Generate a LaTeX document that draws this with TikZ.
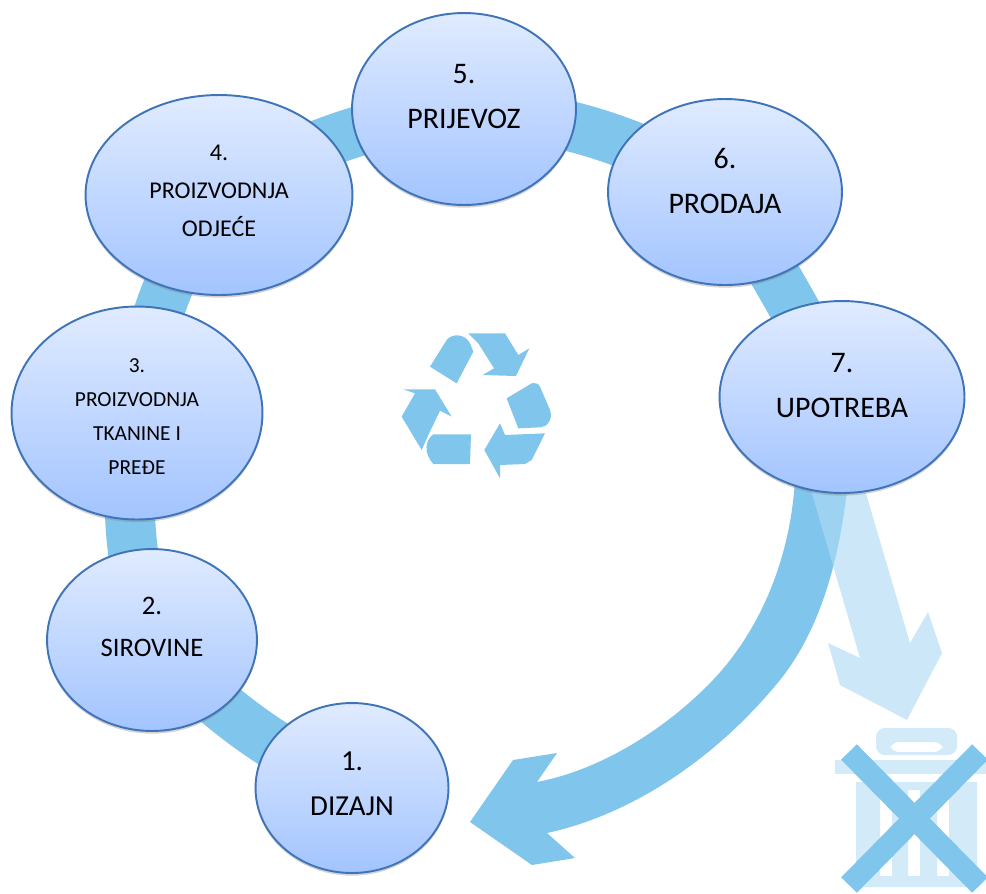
\documentclass[tikz,border=0pt]{standalone}
\usepackage{fontspec}
\setmainfont{Carlito}
\usetikzlibrary{shapes.geometric,shadows,backgrounds}
\definecolor{ringblue}{HTML}{7FC5EC}
\definecolor{paleblue}{HTML}{D3EBF9}
\definecolor{fadeblue}{HTML}{AFDAF5}
\definecolor{stepline}{HTML}{3F74B8}
\definecolor{steptop}{HTML}{E0EBFF}
\definecolor{stepbot}{HTML}{A3C4FF}
\newcommand{\steptext}[2]{\raisebox{#1}[0pt][0pt]{\begin{tabular}{@{}c@{}}#2\end{tabular}}}
\tikzset{
  stepbox/.style={ellipse,draw=stepline,line width=1.1pt,top color=steptop,bottom color=stepbot,
    inner sep=0pt,drop shadow={opacity=.35,shadow xshift=0pt,shadow yshift=-1.5pt}},
  ringline/.style={ringblue,line width=1cm},
}
\begin{document}
\begin{tikzpicture}[x=0.02cm,y=-0.02cm]
\useasboundingbox (0,0) rectangle (986,893);
\node[stepbox,minimum width=3.86cm,minimum height=3.40cm,font=\fontsize{16.5}{25.6}\selectfont] (dizajn) at (352,788) {\steptext{-2.2pt}{1.\\DIZAJN}};
\node[stepbox,minimum width=4.20cm,minimum height=3.64cm,font=\fontsize{15.2}{24}\selectfont] (sirovine) at (152,640) {\steptext{3.9pt}{2.\\SIROVINE}};
\node[stepbox,minimum width=5.02cm,minimum height=4.26cm,font=\fontsize{12.2}{19.3}\selectfont] (tkanina) at (137,413) {\steptext{-5.1pt}{3.\\PROIZVODNJA\\TKANINE I\\PREĐE}};
\node[stepbox,minimum width=5.34cm,minimum height=4.00cm,font=\fontsize{13.7}{21.6}\selectfont] (odjeca) at (219,195) {\steptext{-1.2pt}{4.\\PROIZVODNJA\\ODJEĆE}};
\node[stepbox,minimum width=4.48cm,minimum height=3.84cm,font=\fontsize{17}{25.6}\selectfont] (prijevoz) at (464,109) {\steptext{2.6pt}{5.\\PRIJEVOZ}};
\node[stepbox,minimum width=4.68cm,minimum height=3.72cm,font=\fontsize{17}{25.6}\selectfont] (prodaja) at (725,192) {\steptext{1.4pt}{6.\\PRODAJA}};
\node[stepbox,minimum width=4.90cm,minimum height=3.84cm,font=\fontsize{17}{25.6}\selectfont] (upotreba) at (842,397) {\steptext{1.9pt}{7.\\UPOTREBA}};
% ring behind the steps
\begin{pgfonlayer}{background}
\draw[ringline] (dizajn.center) to[bend left=10] (sirovine.center);
\draw[ringline] (sirovine.center) to[bend left=12] (tkanina.center);
\draw[ringline] (tkanina.center) to[bend left=13] (odjeca.center);
\draw[ringline] (odjeca.center) to[bend left=11] (prijevoz.center);
\draw[ringline] (prijevoz.center) to[bend left=12] (prodaja.center);
\draw[ringline] (prodaja.center) to[bend left=2] (upotreba.center);
% way back to the first step
\fill[ringblue] (795,480) .. controls (790,560) and (760,630) .. (713,680)
  .. controls (665,730) and (600,770) .. (537,782) -- (557,753) -- (513,760) -- (470,822)
  -- (532,865) -- (575,858) -- (547,833) .. controls (630,815) and (715,760) .. (780,680)
  .. controls (820,630) and (840,560) .. (848,480) -- cycle;
% way out to the bin
\fill[fadeblue,opacity=.65] (811,490) -- (865,490) -- (910,643) -- (928,612) -- (942,653)
  -- (907,720) -- (840,685) -- (828,643) -- (860,658) -- cycle;
\end{pgfonlayer}
% recycling sign
\begin{scope}[shift={(390,320)},scale=1/3]
\fill[ringblue] (120,140) -- (170,60) .. controls (185,40) and (225,40) .. (240,70) -- (250,95) -- (200,190) -- cycle;
\fill[ringblue] (235,40) -- (345,40) -- (385,105) -- (418,85) -- (378,168) -- (278,165) -- (312,145) -- (265,70) -- cycle;
\fill[ringblue] (350,235) -- (425,190) .. controls (435,188) and (445,190) .. (450,200) -- (480,270) .. controls (490,300) and (470,322) .. (450,322) -- (385,325) -- cycle;
\fill[ringblue] (465,340) -- (345,345) -- (330,310) -- (283,390) -- (330,475) -- (330,435) -- (405,432) -- (425,420) -- cycle;
\fill[ringblue] (243,343) -- (130,343) .. controls (105,360) and (100,400) .. (130,432) -- (240,432) -- cycle;
\fill[ringblue] (95,390) -- (35,290) -- (75,220) -- (40,208) -- (135,208) -- (185,290) -- (150,272) -- (115,345) -- cycle;
\end{scope}
% bin
\fill[paleblue,rounded corners=5pt,even odd rule] (876,728) rectangle (957,755) (890,742) rectangle (943,752);
\fill[paleblue] (835,760) rectangle (986,774);
\fill[paleblue,even odd rule] (856,782) rectangle (977,887)
  (880,790) rectangle (892,876) (908,790) rectangle (920,876) (937,790) rectangle (949,876);
\draw[ringblue,line width=0.44cm] (849,752) -- (980,885);
\draw[ringblue,line width=0.44cm] (980,752) -- (849,885);
\end{tikzpicture}
\end{document}
